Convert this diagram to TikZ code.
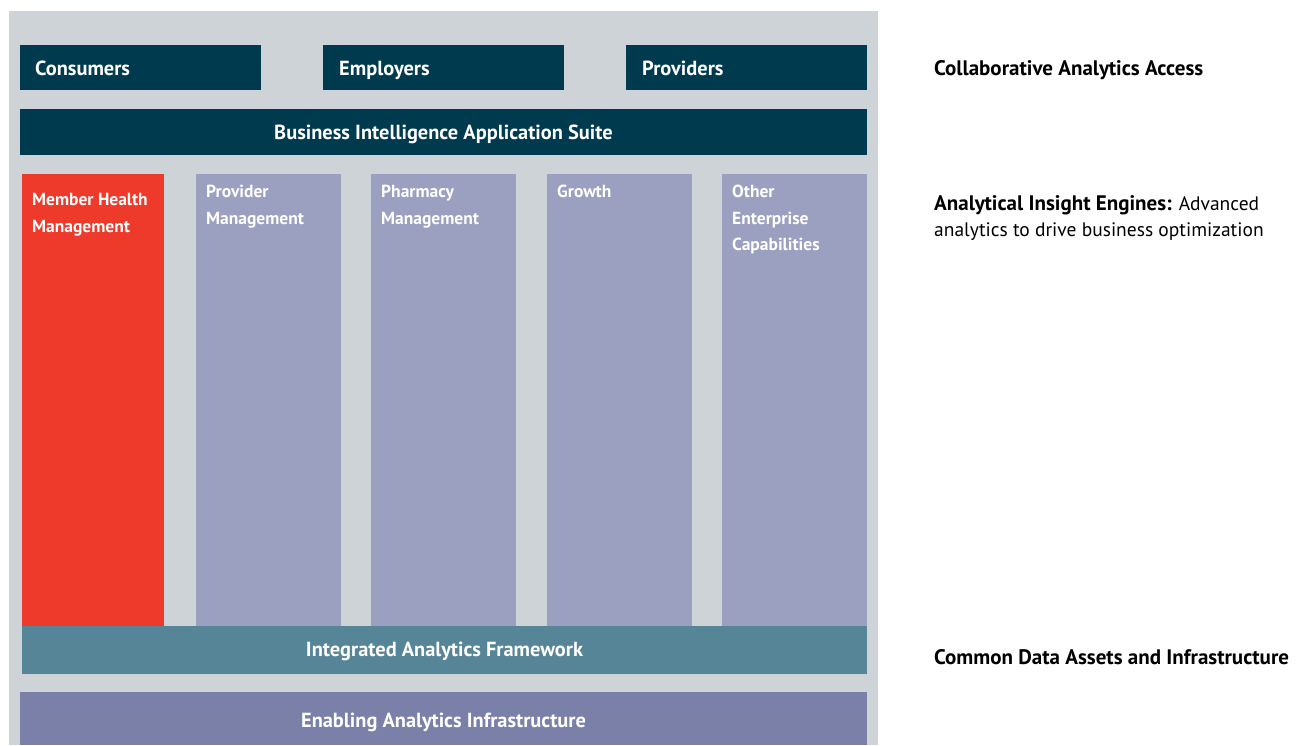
\documentclass[tikz,border=0pt]{standalone}
\usepackage{fontspec}
\setmainfont{PT Sans}
\begin{document}
\definecolor{panel}{HTML}{CED3D7}
\definecolor{navy}{HTML}{003A4F}
\definecolor{alert}{HTML}{EE3A2B}
\definecolor{lav}{HTML}{9B9FC0}
\definecolor{teal}{HTML}{568598}
\definecolor{slate}{HTML}{7A80A8}
\begin{tikzpicture}[x=1pt,y=-1pt,
  box/.style={anchor=north west,inner sep=0pt,outer sep=0pt},
  wtxt/.style={text=white,font=\fontsize{17.5}{21}\selectfont\bfseries,inner sep=0pt,anchor=base west},
  wbig/.style={wtxt,font=\fontsize{20.4}{24}\selectfont\bfseries},
  wmid/.style={wbig,anchor=base},
  side/.style={anchor=base west,inner sep=0pt,text=black,font=\fontsize{19.5}{24}\selectfont},
  sidebf/.style={font=\fontsize{21}{24}\selectfont\bfseries}]
\useasboundingbox (0,0) rectangle (1300,745);
% grey backdrop
\node[box,fill=panel,minimum width=869pt,minimum height=734pt] (bg) at (9,11) {};
% access row
\node[box,fill=navy,minimum width=241pt,minimum height=45pt] (cons) at (20,45) {};
\node[box,fill=navy,minimum width=241pt,minimum height=45pt] (empl) at (323,45) {};
\node[box,fill=navy,minimum width=241pt,minimum height=45pt] (prov) at (626,45) {};
\node[wbig] (tcons) at (35,75.5) {Consumers};
\node[wbig] (templ) at (339,75.5) {Employers};
\node[wbig] (tprov) at (642,75.5) {Providers};
% application suite
\node[box,fill=navy,minimum width=847pt,minimum height=46pt] (bis) at (20,109) {};
\node[wmid] (tbis) at (443.5,139.5) {Business Intelligence Application Suite};
% insight engine columns
\node[box,fill=alert,minimum width=142pt,minimum height=452pt] (c1) at (22,174) {};
\node[box,fill=lav,minimum width=145pt,minimum height=452pt] (c2) at (196,174) {};
\node[box,fill=lav,minimum width=145pt,minimum height=452pt] (c3) at (371,174) {};
\node[box,fill=lav,minimum width=145pt,minimum height=452pt] (c4) at (547,174) {};
\node[box,fill=lav,minimum width=145pt,minimum height=452pt] (c5) at (722,174) {};
\node[wtxt] (t1a) at (32,205) {Member Health};
\node[wtxt] (t1b) at (32,232) {Management};
\node[wtxt] (t2a) at (206,197.5) {Provider};
\node[wtxt] (t2b) at (206,224) {Management};
\node[wtxt] (t3a) at (381,197.5) {Pharmacy};
\node[wtxt] (t3b) at (381,224) {Management};
\node[wtxt] (t4a) at (557,197.5) {Growth};
\node[wtxt] (t5a) at (732,197.5) {Other};
\node[wtxt] (t5b) at (732,224) {Enterprise};
\node[wtxt] (t5c) at (732,250.5) {Capabilities};
% data layers
\node[box,fill=teal,minimum width=845pt,minimum height=48pt] (iaf) at (22,626) {};
\node[wmid] (tiaf) at (444.5,656.5) {Integrated Analytics Framework};
\node[box,fill=slate,minimum width=847pt,minimum height=53pt] (eai) at (20,692) {};
\node[wmid] (teai) at (443.5,727.5) {Enabling Analytics Infrastructure};
% tier captions
\node[side,sidebf] (s1) at (934,75.5) {Collaborative Analytics Access};
\node[side] (s2a) at (934,210.5) {{\fontsize{21}{24}\selectfont\bfseries Analytical Insight Engines:} Advanced};
\node[side] (s2b) at (934,236.5) {analytics to drive business optimization};
\node[side,sidebf] (s3) at (934,664.5) {Common Data Assets and Infrastructure};
\end{tikzpicture}
\end{document}
